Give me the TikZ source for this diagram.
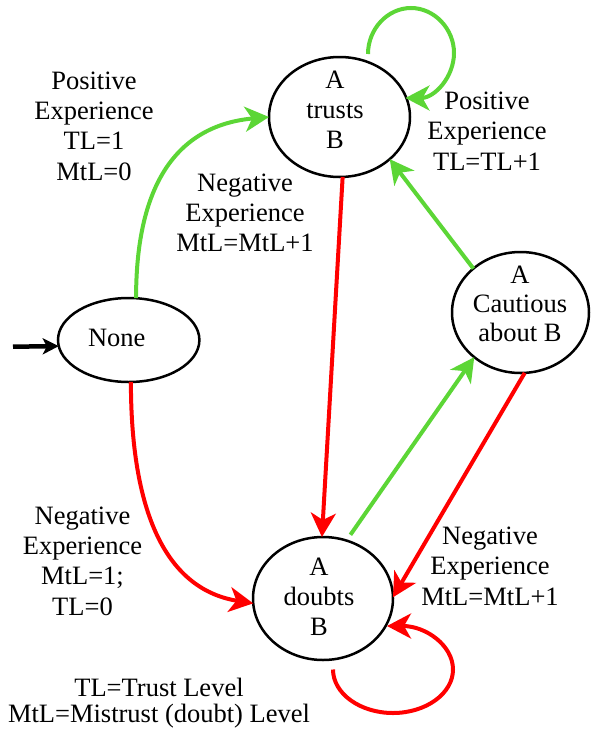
\documentclass[tikz,border=0pt]{standalone}
\usepackage{fontspec}
\setmainfont{Liberation Serif}
\usetikzlibrary{arrows.meta,shapes.geometric,calc}
\definecolor{lgreen}{RGB}{92,214,54}
\definecolor{red0}{RGB}{255,0,0}
\begin{document}
\begin{tikzpicture}[x=1pt,y=-1pt,
  statebox/.style={draw=black, line width=2.5pt, ellipse, inner sep=0pt, outer sep=0pt},
  % multi-line texts are placed by the baseline of their last line
  txt/.style={font=\fontsize{26.5}{30.3}\selectfont, align=center, anchor=base, inner sep=0pt},
  statetxt/.style={txt, font=\fontsize{26.5}{30}\selectfont},
  edgearrow/.style={-{Stealth[length=24pt,width=25pt,inset=7pt]}, line width=4pt},
  posedge/.style={edgearrow, draw=lgreen},
  negedge/.style={edgearrow, draw=red0},
]
\useasboundingbox (0,0) rectangle (592,734);

% states
\node[statebox, minimum width=141pt, minimum height=120pt] (trusts) at (339.5,117) {};
\node[statebox, minimum width=141.4pt, minimum height=84pt] (none) at (128.7,340) {};
\node[statebox, minimum width=137pt, minimum height=121pt] (cautious) at (520.5,312.5) {};
\node[statebox, minimum width=140pt, minimum height=123pt] (doubts) at (323,598.5) {};

\node[statetxt] (trustsText) at (335,148.3) {A\\trusts\\B};
\node[statetxt] (noneText) at (116.7,346.7) {None};
\node[statetxt, font=\fontsize{26.5}{29.3}\selectfont] (cautiousText) at (520,341.7) {A\\Cautious\\about B};
\node[statetxt] (doubtsText) at (319,635) {A\\doubts\\B};

% transition labels
\node[txt] (lblFirstPos) at (94,180) {Positive\\Experience\\TL=1\\MtL=0};
\node[txt] (lblFirstNeg) at (82.5,615) {Negative\\Experience\\MtL=1;\\TL=0};
\node[txt] (lblTrustNeg) at (245,251.7) {Negative\\Experience\\MtL=MtL+1};
\node[txt] (lblLoopPos) at (487,170) {Positive\\Experience\\TL=TL+1};
\node[txt] (lblCautNeg) at (490,605) {Negative\\Experience\\MtL=MtL+1};
\node[txt, font=\fontsize{26.5}{26}\selectfont] (legend) at (159,722.7) {TL=Trust Level\\MtL=Mistrust (doubt) Level};

% initial arrow
\coordinate (entry) at (13,346.7);
\draw[line width=4.5pt, -{Stealth[length=16pt,width=16pt,inset=4pt]}] (entry) -- (none.185);

% transitions
\draw[posedge] (none.80) .. controls (136,180) and (180,125) .. (trusts.west);
\draw[negedge] (none.-87) .. controls (131,520) and (170,590) .. (doubts.184);
\draw[negedge] (trusts.-87) -- (doubts.91);
\draw[posedge, shorten <=7pt] (doubts.68) -- (cautious.224);
\draw[posedge] (cautious.137.5) -- (trusts.-40);
\draw[negedge] (cautious.-86) -- (doubts.1);

% self loops
\begin{scope}[shift={(trusts.center)}]
  \draw[posedge] (28.5,-63) .. controls (28.5,-88) and (48,-109) .. (71.5,-109)
    .. controls (95,-109) and (114.5,-88) .. (114.5,-64)
    .. controls (114.5,-40) and (95,-19) .. (66,-19);
\end{scope}
\begin{scope}[shift={(doubts.center)}]
  \draw[negedge] (10,71) .. controls (10,95) and (37,114.5) .. (70,114.5)
    .. controls (103,114.5) and (130,95) .. (130,71)
    .. controls (130,47) and (103,27.5) .. (64,27.5);
\end{scope}
\end{tikzpicture}
\end{document}
